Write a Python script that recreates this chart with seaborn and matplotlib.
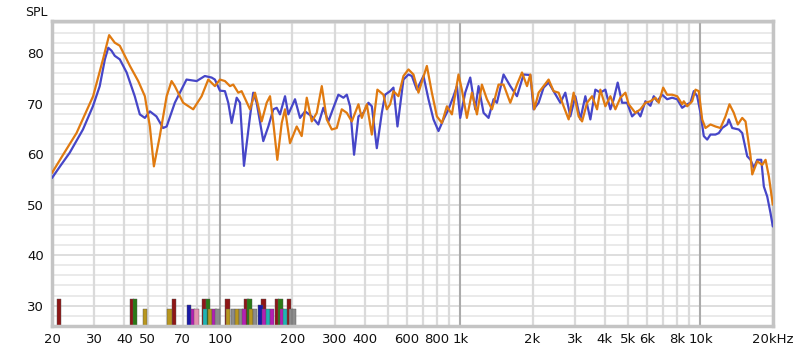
import numpy as np
import matplotlib
matplotlib.use("Agg")
import matplotlib.pyplot as plt
import seaborn as sns

# ---------------- data ----------------
blue_freq = [20, 21.6, 23.7, 26.9, 29.6, 31.6, 33.2, 34.3, 35.4, 36.5, 38.3, 40.9, 44.2, 46.4, 48.7,
             51.1, 54.4, 58.0, 60.0, 64.9, 66.0, 72.6, 80.0, 86.5, 92.3, 95.3, 100, 104.9, 108.3,
             111.9, 117.4, 121.2, 125.9, 133.4, 137.6, 142.2, 151.5, 159, 166.8, 172.3, 177.8,
             186.6, 192.6, 205.3, 215.4, 226.1, 241.1, 256.8, 269.4, 282.7, 296.6, 311.1, 326.6,
             337.3, 348.0, 361.6, 377.1, 395.5, 414.9, 428.7, 449.7, 471.8, 486.9, 510.9, 527.4,
             548.1, 580.5, 609.0, 629.3, 659.9, 703.3, 737.8, 774.1, 812.1, 852.0, 893.8, 937.8,
             969, 1000, 1049, 1101, 1155, 1192, 1251, 1312, 1377, 1422, 1515, 1616, 1723, 1836,
             1958, 2021, 2120, 2224, 2333, 2448, 2611, 2738, 2873, 3014, 3162, 3318, 3481, 3652,
             3831, 4019, 4217, 4354, 4523, 4718, 4949, 5193, 5450, 5623, 5900, 6190, 6389, 6600,
             6925, 7265, 7622, 7998, 8391, 8804, 9085, 9378, 9690, 10000, 10322, 10665, 11007,
             11548, 11921, 12314, 12920, 13119, 13556, 14440, 14920, 15654, 16156, 16678, 17232,
             17904, 18357, 18964, 19573, 20000]
blue_spl = [55.3, 57.6, 60.3, 64.9, 69.5, 73.5, 78.8, 81.1, 80.5, 79.5, 78.8, 76.2, 71.5, 67.9, 67.2,
            68.5, 67.5, 65.2, 65.5, 70.2, 70.9, 74.8, 74.5, 75.5, 75.2, 74.8, 72.6, 72.5, 70.2,
            66.2, 71.2, 70.2, 57.7, 67.5, 72.2, 70.2, 62.6, 65.5, 68.9, 69.2, 67.9,
            71.5, 67.9, 70.9, 67.2, 68.5, 67.5, 65.9, 69.2, 66.5, 69.2, 71.8, 71.2,
            71.8, 69.5, 59.9, 67.5, 68.2, 70.2, 69.5, 61.2, 68.2, 71.8, 72.5, 73.2,
            65.5, 74.8, 75.8, 75.5, 72.8, 75.5, 70.9, 66.9, 64.6, 66.9, 68.9, 71.5,
            73.5, 67.2, 72.2, 75.2, 68.9, 73.5, 68.2, 67.2, 70.9, 70.2, 75.8, 73.5, 71.5, 75.8,
            75.7, 68.9, 70.2, 73.2, 74.2, 72.5, 70.2, 72.2, 67.5, 71.5, 66.9, 71.5, 66.9, 72.8,
            72.2, 72.8, 68.9, 70.9, 74.2, 70.2, 70.2, 67.5, 68.5, 67.5, 70.5, 69.6, 71.5, 70.5,
            71.8, 70.9, 71.2, 70.9, 69.2, 69.9, 70.2, 72.5, 71.5, 68.2, 63.6, 62.9, 63.9,
            63.9, 64.2, 65.2, 65.9, 66.9, 65.2, 64.9, 64.2, 59.6, 58.9, 57.3, 58.9,
            58.9, 53.6, 51.6, 48.3, 45.7]

orange_freq = [20, 22.24, 25.3, 29.66, 32.6, 34.58, 36.5, 38.3, 42.2, 45.7, 48.7, 51.1, 53.1, 56.2,
               60.0, 62.9, 64.9, 70.3, 77.4, 83.9, 89.4, 95.3, 100, 104.9, 110.1, 113.6, 119.2,
               123.1, 133.4, 139.9, 144.4, 149.2, 156.5, 161.6, 166.8, 173.3, 180.8, 186.6, 195.7,
               208.7, 218.9, 229.8, 241.1, 252.9, 265.4, 278.4, 292.1, 306.4, 321.4, 337.3, 353.8,
               377.1, 389.5, 408.6, 428.7, 452.2, 479.0, 495.0, 510.9, 527.4, 553.3, 580.5, 609.0,
               638.9, 670.3, 726.5, 762.2, 799.8, 839.1, 880.4, 923.6, 983.8, 1016, 1066, 1119,
               1174, 1231, 1292, 1356, 1444, 1515, 1616, 1723, 1808, 1897, 1958, 2034, 2120, 2224,
               2333, 2448, 2568, 2694, 2827, 2966, 3111, 3216, 3373, 3538, 3712, 3831, 4019, 4217,
               4424, 4642, 4870, 5026, 5359, 5623, 5900, 6190, 6494, 6704, 6993, 7265, 7622, 7998,
               8391, 8520, 8804, 9235, 9532, 9838, 10165, 10491, 11007, 11548, 12115, 12710, 13205,
               13764, 14302, 14920, 15399, 16156, 16423, 17232, 18079, 18659, 19261, 20000]
orange_spl = [56.3, 59.9, 64.2, 71.5, 78.8, 83.6, 82.1, 81.5, 77.5, 74.5, 71.5, 65.5, 57.6, 63.6,
              71.5, 74.5, 73.5, 70.2, 68.9, 71.5, 74.8, 73.5, 74.8, 74.5, 73.5, 73.8, 72.2,
              72.5, 68.9, 72.2, 69.5, 66.5, 70.2, 71.5, 66.2, 58.9, 66.2, 68.9, 62.2,
              65.5, 63.6, 71.2, 66.5, 68.2, 73.5, 66.9, 64.9, 65.2, 68.9, 68.2, 66.5,
              69.9, 67.2, 69.9, 63.9, 72.8, 71.8, 68.9, 69.9, 72.5, 71.5, 75.5, 76.8,
              75.8, 72.2, 77.5, 72.2, 67.5, 66.2, 69.5, 67.9, 75.8, 72.8, 67.2, 72.2,
              67.9, 73.8, 70.9, 68.9, 73.8, 73.8, 70.2, 73.8, 76.2, 73.5, 75.8, 68.9, 72.2, 73.5,
              74.8, 72.5, 72.2, 69.5, 66.9, 72.2, 67.5, 66.5, 70.2, 71.5, 68.9, 72.8, 69.5, 71.5,
              68.9, 71.2, 72.2, 69.9, 68.2, 68.9, 70.2, 70.5, 71.2, 70.2, 73.2, 71.8, 71.8, 71.5,
              69.9, 70.5, 69.5, 70.5, 72.8, 72.5, 66.9, 65.2, 65.9, 65.5, 65.2, 67.5, 69.9,
              68.2, 65.9, 67.2, 66.5, 59.6, 56.0, 58.6, 57.9, 58.9, 55.6, 50.0]

# filter markers along the bottom (centre frequency, colour name) at three levels
tall_freq = [21.4, 43.0, 44.2, 64.6, 85.8, 89.1, 107.5, 129, 132.7, 151.8, 172.8, 178.7, 193.9]
tall_col = ["red", "red", "green", "red", "red", "green", "red", "red", "green", "red", "red", "green", "red"]
mid_freq = [74.6, 147.5]
mid_col = ["blue", "blue"]
short_freq = [48.8, 61.7, 77.4, 79.8, 86.5, 90.9, 94.9, 97.6, 108, 113.3, 117.7, 122.3, 125.9,
              134.6, 139.9, 152.5, 158.5, 164.7, 181.3, 186.6, 197.6, 203.4]
short_col = ["gold", "gold", "magenta", "pink", "cyan", "gold", "magenta", "gray", "gold", "gray",
             "gold", "gray", "magenta", "gold", "gray", "magenta", "cyan", "magenta", "magenta",
             "cyan", "gray", "gray"]
tall_level, mid_level, short_level = 31.3, 30.2, 29.4

x_ticks = [20, 30, 40, 50, 70, 100, 200, 300, 400, 600, 800, 1000, 2000, 3000, 4000, 5000, 6000,
           8000, 10000, 20000]
x_labels = ["20", "30", "40", "50", "70", "100", "200", "300", "400", "600", "800", "1k", "2k",
            "3k", "4k", "5k", "6k", "8k", "10k", "20kHz"]
y_ticks = [30, 40, 50, 60, 70, 80]

# ---------------- style ----------------
palette = {"red": "#8e1616", "green": "#2a7a16", "gold": "#b8961e", "blue": "#1a1aa8",
           "magenta": "#b41eb4", "cyan": "#1eb4b4", "gray": "#8c8c8c", "pink": "#e38fb0"}
blue_c = "#4646c8"
orange_c = "#e07a10"

sns.set_theme(style="white")
plt.rcParams["font.family"] = ["DejaVu Sans"]

fig = plt.figure(figsize=(8, 3.5), dpi=100)
ax = fig.add_axes([0.065, 0.069, 0.901, 0.871])
ax.set_xscale("log")
ymin, ymax = 26.0, 86.4
ax.set_xlim(20, 20000)
ax.set_ylim(ymin, ymax)

# grid
minor_v = []
for dec in [10, 100, 1000, 10000]:
    for m in range(1, 10):
        v = dec * m
        if 20 <= v <= 20000:
            minor_v.append(v)
for v in minor_v:
    if v in (100, 1000, 10000):
        ax.axvline(v, color="#ababab", lw=1.5, zorder=1)
    else:
        ax.axvline(v, color="#dadada", lw=1.6, zorder=0.5)
for h in np.arange(28, 87, 2):
    ax.axhline(h, color="#d4d4d4" if h % 10 == 0 else "#e4e4e4", lw=1.1, zorder=0.4)

# filter bars
half = 0.0088


def draw_bars(freqs, cols, level):
    f = np.array(freqs, dtype=float)
    left = f * 10 ** (-half)
    width = f * (10 ** half - 10 ** (-half))
    ax.bar(left, level - ymin, width=width, bottom=ymin, align="edge",
           color=[palette[c] for c in cols], edgecolor="#555555", linewidth=0.3, zorder=2)


draw_bars(tall_freq, tall_col, tall_level)
draw_bars(mid_freq, mid_col, mid_level)
draw_bars(short_freq, short_col, short_level)

# response curves
sns.lineplot(x=blue_freq, y=blue_spl, ax=ax, color=blue_c, linewidth=1.6, sort=False,
             estimator=None, zorder=3)
sns.lineplot(x=orange_freq, y=orange_spl, ax=ax, color=orange_c, linewidth=1.6, sort=False,
             estimator=None, zorder=4)

ax.set_xticks(x_ticks)
ax.set_xticklabels(x_labels)
ax.xaxis.set_minor_locator(matplotlib.ticker.NullLocator())
ax.set_yticks(y_ticks)
ax.set_yticklabels([str(v) for v in y_ticks])
ax.tick_params(axis="both", length=0, labelsize=9.5, colors="#111111")
ax.tick_params(axis="x", pad=5)
ax.tick_params(axis="y", pad=6)
ax.set_xlabel("")
ax.set_ylabel("")
for s in ax.spines.values():
    s.set_color("#c4c4c4")
    s.set_linewidth(2.5)
    s.set_visible(True)

fig.text(0.032, 0.965, "SPL", fontsize=9, color="#111111", va="center", ha="left")

fig.savefig("out.png", dpi=100, facecolor="white")
